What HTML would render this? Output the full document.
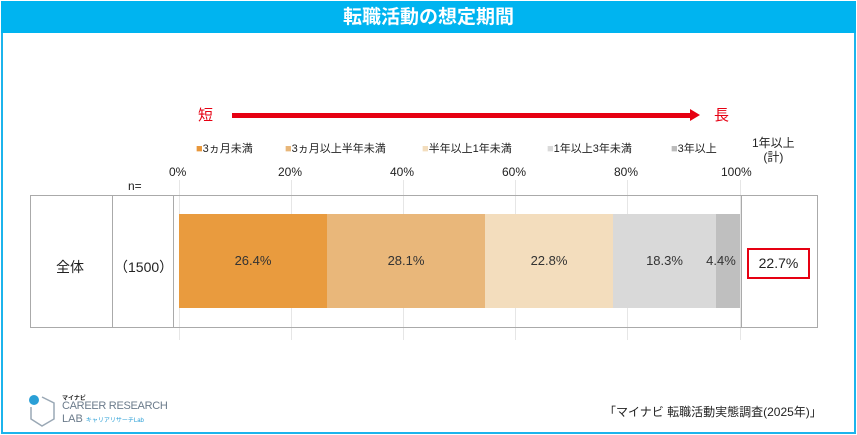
<!DOCTYPE html><html><head><meta charset="utf-8"><style>
body{margin:0;width:857px;height:435px;background:#fff;font-family:"Liberation Sans","Noto Sans CJK JP",sans-serif;position:relative;overflow:hidden;color:#222}
.a{position:absolute}
.t{font-size:12px}
</style></head><body>
<div class="a" style="left:1px;top:1px;width:851px;height:429px;border:2px solid #1cb4ec"></div>
<div class="a" style="left:1px;top:1px;width:855px;height:32px;background:#00b4f0;color:#fff;font-size:19px;font-weight:bold;text-align:center;line-height:34px">転職活動の想定期間</div>
<div class="a" style="left:198px;top:104px;color:#e60012;font-size:15px">短</div>
<div class="a" style="left:714px;top:104px;color:#e60012;font-size:15px">長</div>
<div class="a" style="left:232px;top:113px;width:460px;height:5px;background:#e60012"></div>
<div class="a" style="left:690px;top:109px;width:0;height:0;border-left:10px solid #e60012;border-top:6px solid transparent;border-bottom:6px solid transparent"></div>
<div class="a t" style="top:140px;left:196px;font-size:11px;white-space:nowrap">
<span style="color:#e8973a">■</span>3ヵ月未満</div>
<div class="a t" style="top:140px;left:285px;font-size:11px;white-space:nowrap"><span style="color:#e8b679">■</span>3ヵ月以上半年未満</div>
<div class="a t" style="top:140px;left:422px;font-size:11px;white-space:nowrap"><span style="color:#f3ddbd">■</span>半年以上1年未満</div>
<div class="a t" style="top:140px;left:547px;font-size:11px;white-space:nowrap"><span style="color:#d9d9d9">■</span>1年以上3年未満</div>
<div class="a t" style="top:140px;left:671px;font-size:11px;white-space:nowrap"><span style="color:#bbb">■</span>3年以上</div>
<div class="a t" style="top:136px;left:752px;text-align:center;line-height:14px">1年以上<br>(計)</div>
<div class="a t" style="top:165px;left:169px">0%</div>
<div class="a t" style="top:165px;left:278px">20%</div>
<div class="a t" style="top:165px;left:390px">40%</div>
<div class="a t" style="top:165px;left:502px">60%</div>
<div class="a t" style="top:165px;left:614px">80%</div>
<div class="a t" style="top:165px;left:721px">100%</div>
<div class="a t" style="top:179px;left:128px">n=</div>
<div class="a" style="left:179px;top:180px;width:1px;height:160px;background:#e6e6e6"></div>
<div class="a" style="left:291px;top:180px;width:1px;height:160px;background:#e6e6e6"></div>
<div class="a" style="left:403px;top:180px;width:1px;height:160px;background:#e6e6e6"></div>
<div class="a" style="left:515px;top:180px;width:1px;height:160px;background:#e6e6e6"></div>
<div class="a" style="left:627px;top:180px;width:1px;height:160px;background:#e6e6e6"></div>
<div class="a" style="left:740px;top:180px;width:1px;height:160px;background:#e6e6e6"></div>
<div class="a" style="left:30px;top:195px;width:788px;height:133px;border:1px solid #aaa;box-sizing:border-box"></div>
<div class="a" style="left:112px;top:195px;width:1px;height:133px;background:#aaa"></div>
<div class="a" style="left:173px;top:195px;width:1px;height:133px;background:#aaa"></div>
<div class="a" style="left:741px;top:195px;width:1px;height:133px;background:#aaa"></div>
<div class="a" style="left:56px;top:257px;font-size:14px">全体</div>
<div class="a" style="left:114px;top:257px;font-size:14px">（1500）</div>
<div class="a t" style="left:179px;top:214px;height:94px;display:flex;font-size:13px;line-height:94px;text-align:center;color:#333">
<div style="width:148px;background:#e99b3e">26.4%</div>
<div style="width:158px;background:#e9b77a">28.1%</div>
<div style="width:128px;background:#f3ddbd">22.8%</div>
<div style="width:103px;background:#d9d9d9">18.3%</div>
<div style="width:24px;background:#bfbfbf;text-indent:-14px">4.4%</div>
</div>
<div class="a" style="left:747px;top:248px;width:59px;height:27px;border:2px solid #e60012;font-size:14px;text-align:center;line-height:27px">22.7%</div>
<svg class="a" style="left:28px;top:393px" width="30" height="36"><circle cx="6" cy="7" r="5" fill="#2a9fd6"/><path d="M14 4 L26 10 L26 26 L14 33 L3 26 L3 14" fill="none" stroke="#9aa8b5" stroke-width="1.5"/></svg>
<div class="a" style="left:62px;top:393px;font-size:6px;font-weight:bold">マイナビ</div>
<div class="a" style="left:62px;top:400px;font-size:11px;color:#6b7b8b;letter-spacing:-0.3px">CAREER RESEARCH</div>
<div class="a" style="left:62px;top:413px;font-size:11px;color:#6b7b8b">LAB <span style="font-size:6px;color:#2a9fd6">キャリアリサーチLab</span></div>
<div class="a" style="left:604px;top:403px;font-size:12px">「マイナビ 転職活動実態調査(2025年)」</div>
</body></html>
